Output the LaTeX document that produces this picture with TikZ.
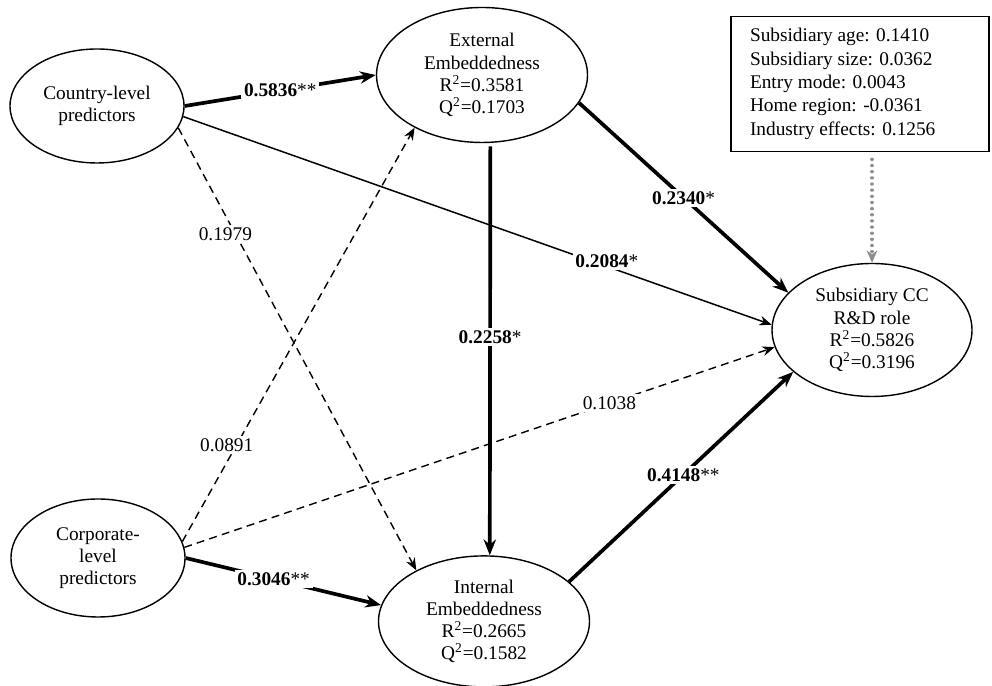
\documentclass[tikz,border=0pt]{standalone}
\usepackage{fontspec}
\setmainfont{Liberation Serif}
\usepackage{tikz}
\usetikzlibrary{positioning, shapes.geometric, arrows.meta}
\definecolor{pathGrey}{HTML}{8C8C8C}

\begin{document}
\begin{tikzpicture}[font=\fontsize{11}{12.6}\selectfont,
  latent/.style={draw, ellipse, line width=0.8pt, inner sep=0pt,
    align=center},
  ctrlbox/.style={draw, line width=1pt, inner sep=0pt, align=left,
    minimum width=5.16cm, minimum height=2.7cm,
    font=\fontsize{11}{13.3}\selectfont},
  strong/.style={-{Stealth[length=9pt, width=7pt]}, line width=2.1pt},
  weak/.style={-{Stealth[length=7pt, width=5.5pt]}, line width=0.85pt},
  nonsig/.style={-{Stealth[length=7pt, width=5.5pt]}, line width=0.8pt,
    dash pattern=on 4.5pt off 3pt},
  ctrlarr/.style={-{Stealth[length=7pt, width=6pt]}, pathGrey,
    line width=1.8pt, dash pattern=on 0.1pt off 3.4pt, line cap=round},
  coef/.style={fill=white, inner sep=1.5pt}]

\useasboundingbox (0,0) rectangle (19.84,13.72);

\node[latent, minimum width=3.48cm, minimum height=2.28cm] (country)
  at (1.94,11.60) {Country-level\\predictors};
\node[latent, minimum width=3.48cm, minimum height=2.36cm] (corporate)
  at (1.96,2.56) {Corporate-\\level\\predictors};
\node[latent, minimum width=4.22cm, minimum height=2.70cm] (external)
  at (9.64,12.22) {External\\Embeddedness\\R\textsuperscript{2}=0.3581\\Q\textsuperscript{2}=0.1703};
\node[latent, minimum width=4.22cm, minimum height=2.62cm,
  below=8.24cm of external, xshift=0.04cm] (internal)
  {Internal\\Embeddedness\\R\textsuperscript{2}=0.2665\\Q\textsuperscript{2}=0.1582};
\node[latent, minimum width=4.0cm, minimum height=2.66cm] (subsid)
  at (17.44,7.12) {Subsidiary CC\\R\&D role\\R\textsuperscript{2}=0.5826\\Q\textsuperscript{2}=0.3196};
\node[ctrlbox, above=2.21cm of subsid, xshift=-0.24cm] (ctrl)
  {\hspace*{0.3cm}\parbox{4.7cm}{Subsidiary age: 0.1410\\
  Subsidiary size: 0.0362\\
  Entry mode: 0.0043\\
  Home region: -0.0361\\
  Industry effects: 0.1256}};

% structural paths
\draw[strong] (country.east) -- (external.west)
  node[coef, pos=.5] {\textbf{0.5836}**};
\draw[weak] (country.-7) -- (subsid.177)
  node[coef, pos=.72, yshift=3pt] {\textbf{0.2084}*};
\draw[nonsig] (country.-15) -- (internal.143)
  node[coef, pos=.24, xshift=-0.2cm] {0.1979};
\draw[nonsig] (corporate.11) -- (external.-142)
  node[coef, pos=.234, xshift=-0.2cm] {0.0891};
\draw[strong] (corporate.east) -- (internal.171)
  node[coef, pos=.45] {\textbf{0.3046}**};
\draw[nonsig] (corporate.7) -- (subsid.190)
  node[coef, pos=.72] {0.1038};
\draw[strong, shorten <=2pt] (external.-83) -- (internal.85)
  node[coef, pos=.47] {\textbf{0.2258}*};
\draw[strong] (external.-16) -- (subsid.156)
  node[coef, pos=.5] {\textbf{0.2340}*};
\draw[strong] (internal.25) -- (subsid.208)
  node[coef, pos=.51] {\textbf{0.4148}**};

% controls
\draw[ctrlarr, shorten <=4pt] (ctrl.south -| subsid.north) -- (subsid.north);
\end{tikzpicture}
\end{document}
